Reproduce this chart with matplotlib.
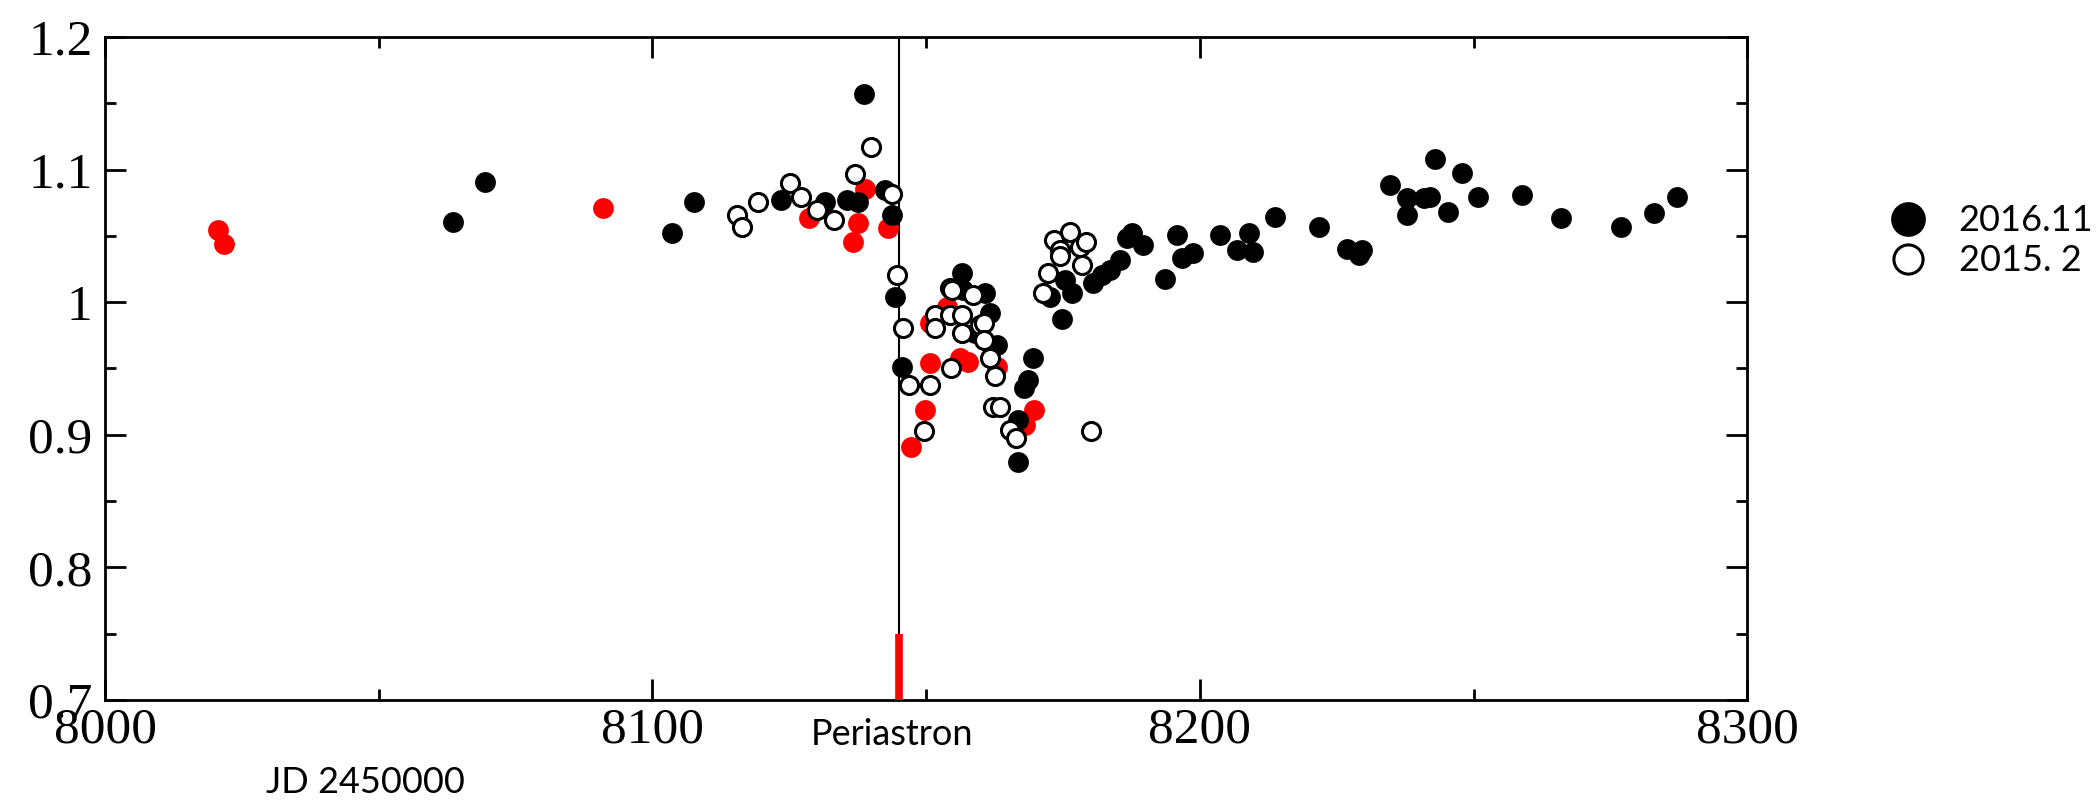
import matplotlib
matplotlib.use('Agg')
import matplotlib.pyplot as plt
from matplotlib.lines import Line2D
from matplotlib.ticker import MultipleLocator
import matplotlib.transforms as mtransforms

PERIASTRON = 8145.1

# flux ratio, 2016.11 run (filled)
jd_2016 = [8063.5, 8069.4, 8103.5, 8107.6, 8123.5, 8131.6, 8135.5, 8137.6, 8138.6, 8142.5,
           8143.7, 8144.3, 8145.6, 8156.6, 8156.8, 8158.9, 8160.8, 8161.7, 8162.9, 8166.7,
           8166.8, 8167.8, 8168.7, 8169.6, 8172.7, 8174.8, 8175.4, 8176.6, 8180.5, 8182.1,
           8183.6, 8185.5, 8186.7, 8187.6, 8189.7, 8193.7, 8195.8, 8196.7, 8198.8, 8203.7,
           8206.8, 8208.9, 8209.8, 8213.8, 8221.7, 8226.8, 8229.0, 8229.6, 8234.8, 8237.8,
           8237.8, 8240.9, 8242.1, 8243.0, 8245.4, 8247.9, 8250.9, 8258.8, 8266.0, 8277.0,
           8283.0, 8287.1]
flux_2016 = [1.0607, 1.0909, 1.0520, 1.0758, 1.0770, 1.0758, 1.0770, 1.0758, 1.1570, 1.0846,
             1.0658, 1.0040, 0.9514, 1.0218, 1.0092, 0.9765, 1.0067, 0.9916, 0.9677, 0.8797,
             0.9112, 0.9351, 0.9413, 0.9577, 1.0040, 0.9871, 1.0167, 1.0067, 1.0145, 1.0205,
             1.0243, 1.0318, 1.0482, 1.0524, 1.0431, 1.0173, 1.0507, 1.0331, 1.0369, 1.0507,
             1.0394, 1.0524, 1.0381, 1.0645, 1.0569, 1.0399, 1.0356, 1.0394, 1.0884, 1.0783,
             1.0658, 1.0783, 1.0796, 1.1078, 1.0683, 1.0972, 1.0796, 1.0808, 1.0637, 1.0569,
             1.0675, 1.0796]

# flux ratio, 2015.2 run (open)
jd_2015 = [8115.4, 8116.3, 8119.3, 8125.2, 8127.2, 8130.0, 8133.1, 8137.0, 8139.9, 8143.7,
           8144.6, 8145.7, 8146.8, 8149.6, 8150.7, 8151.7, 8151.7, 8154.4, 8154.7, 8154.4,
           8154.5, 8156.5, 8156.5, 8158.5, 8159.9, 8160.6, 8160.5, 8161.6, 8162.6, 8162.3,
           8163.5, 8165.4, 8166.5, 8171.4, 8172.2, 8173.3, 8174.4, 8174.4, 8176.3, 8178.1,
           8178.5, 8179.2, 8180.1]
flux_2015 = [1.0658, 1.0570, 1.0758, 1.0897, 1.0791, 1.0695, 1.0620, 1.0967, 1.1173, 1.0814,
             1.0205, 0.9803, 0.9376, 0.9031, 0.9376, 0.9903, 0.9803, 1.0107, 1.0092, 0.9903,
             0.9501, 0.9903, 0.9765, 1.0054, 0.9828, 0.9841, 0.9715, 0.9577, 0.9443, 0.9212,
             0.9207, 0.9036, 0.8974, 1.0072, 1.0218, 1.0469, 1.0394, 1.0347, 1.0532, 1.0419,
             1.0281, 1.0456, 0.9031]

# other epoch (red)
jd_red = [8020.7, 8021.8, 8091.0, 8128.6, 8136.7, 8137.6, 8138.9, 8143.1, 8147.2, 8149.8,
          8150.7, 8150.7, 8153.8, 8156.2, 8157.7, 8162.9, 8168.1, 8169.7]
flux_red = [1.0545, 1.0439, 1.0708, 1.0633, 1.0456, 1.0595, 1.0851, 1.0557, 0.8910, 0.9187,
            0.9539, 0.9843, 0.9966, 0.9577, 0.9551, 0.9514, 0.9074, 0.9187]

x_ticks = [8000, 8100, 8200, 8300]
y_ticks = [0.7, 0.8, 0.9, 1.0, 1.1, 1.2]
y_tick_labels = ['0.7', '0.8', '0.9', '1', '1.1', '1.2']
labels = ['2016.11', '2015. 2']

fig = plt.figure(figsize=(21, 8.01), dpi=100, facecolor='white')
ax = fig.add_axes([0.05, 0.1262, 0.782, 0.8276])

ax.plot(jd_red, flux_red, 'o', ms=15, mfc='#ff0000', mec='none', zorder=3)
ax.plot(jd_2016, flux_2016, 'o', ms=15, mfc='black', mec='none', zorder=4)
ax.plot(jd_2015, flux_2015, 'o', ms=13, mfc='white', mec='black', mew=2.2, zorder=5)

ax.axvline(PERIASTRON, color='black', lw=1.5, zorder=2)
ax.plot([PERIASTRON, PERIASTRON], [0.70, 0.75], color='#ff0000', lw=5.5,
        solid_capstyle='butt', zorder=6, clip_on=False)

ax.set_xlim(8000, 8300)
ax.set_ylim(0.7, 1.2)
ax.set_xticks(x_ticks)
ax.set_xticklabels([str(v) for v in x_ticks])
ax.set_yticks(y_ticks)
ax.set_yticklabels(y_tick_labels)
ax.xaxis.set_minor_locator(MultipleLocator(50))
ax.yaxis.set_minor_locator(MultipleLocator(0.05))

ax.tick_params(which='both', direction='in', top=True, right=True, width=2, colors='black')
ax.tick_params(which='major', length=15)
ax.tick_params(which='minor', length=8)
ax.tick_params(axis='x', which='major', pad=5)
ax.tick_params(axis='y', which='major', pad=9)
for lab in ax.get_xticklabels() + ax.get_yticklabels():
    lab.set_fontfamily('Liberation Serif')
    lab.set_fontsize(37)
for sp in ax.spines.values():
    sp.set_linewidth(2)

sans = ['Lato', 'DejaVu Sans']
trans = mtransforms.blended_transform_factory(ax.transData, fig.transFigure)
ax.text(PERIASTRON - 1.3, 0.0824, 'Periastron', transform=trans, ha='center', va='center',
        fontsize=26, family=sans)
fig.text(0.1738, 0.0225, 'JD 2450000', ha='center', va='center', fontsize=26, family=sans)

handles = [Line2D([], [], ls='none', marker='o', ms=25, mfc='black', mec='none'),
           Line2D([], [], ls='none', marker='o', ms=21, mfc='white', mec='black', mew=2.2)]
fig.legend(handles, labels, loc='upper left', bbox_to_anchor=(0.9, 0.745), frameon=False,
           borderpad=0, borderaxespad=0, handlelength=1.0, handletextpad=0.9,
           labelspacing=0.2, prop={'family': sans, 'size': 26})

plt.savefig('out.png', dpi=100, facecolor='white')
plt.close()
